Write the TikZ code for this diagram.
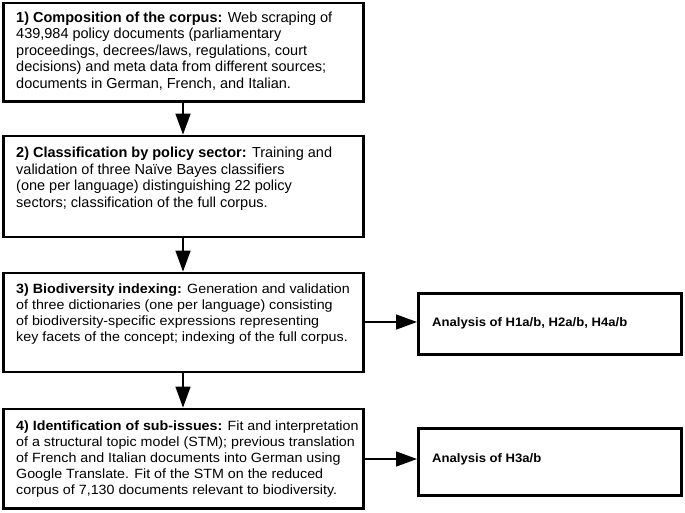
\documentclass[tikz,border=0pt]{standalone}
\usepackage{fontspec}
\setmainfont{Liberation Sans}
\newfontfamily\widefont[FakeStretch=1.065]{Liberation Sans}
\usetikzlibrary{arrows.meta,calc}
\tikzset{
  box/.style={draw=black, line width=2.8pt, rectangle, anchor=north west, inner sep=0pt},
  txt/.style={anchor=north west, align=left, inner sep=0pt, font=\fontsize{14.5}{16.4}\selectfont},
  ntxt/.style={txt, font=\fontsize{13.4}{16.2}\selectfont\widefont},
  htxt/.style={txt, anchor=west, font=\fontsize{12.3}{14}\selectfont\widefont\bfseries},
  flow/.style={line width=1.5pt, -{Triangle[width=15pt,length=21pt]}}
}
\begin{document}
\begin{tikzpicture}[x=1pt,y=-1pt]
\useasboundingbox (0,0) rectangle (685,512);
\node[box, minimum width=360.2, minimum height=98.2] (b1) at (2,1.5) {};
\node[txt] (t1) at (16,11.7) {\textbf{1) Composition of the corpus:} Web scraping of\\439,984 policy documents (parliamentary\\proceedings, decrees/laws, regulations, court\\decisions) and meta data from different sources;\\documents in German, French, and Italian.};
\node[box, minimum width=360.2, minimum height=101] (b2) at (2,134.6) {};
\node[txt] (t2) at (16,147.1) {\textbf{2) Classification by policy sector:} Training and\\validation of three Naïve Bayes classifiers\\(one per language) distinguishing 22 policy\\sectors; classification of the full corpus.};
\node[box, minimum width=360.2, minimum height=99] (b3) at (2,271.6) {};
\node[ntxt] (t3) at (16,283.2) {\textbf{3) Biodiversity indexing:} Generation and validation\\of three dictionaries (one per language) consisting\\of biodiversity-specific expressions representing\\key facets of the concept; indexing of the full corpus.};
\node[box, minimum width=360.2, minimum height=99.5] (b4) at (2,407.6) {};
\node[ntxt] (t4) at (16,420.2) {\textbf{4) Identification of sub-issues:} Fit and interpretation\\of a structural topic model (STM); previous translation\\of French and Italian documents into German using\\Google Translate. Fit of the STM on the reduced\\corpus of 7,130 documents relevant to biodiversity.};
\node[box, minimum width=263.2, minimum height=61.2] (h1) at (417,292) {};
\node[htxt] (th1) at (432,323) {Analysis of H1a/b, H2a/b, H4a/b};
\node[box, minimum width=263.2, minimum height=67.2] (h3) at (417,427) {};
\node[htxt] (th3) at (432,459) {Analysis of H3a/b};
\draw[flow] (b1.south -| 183,0) -- (b2.north -| 183,0);
\draw[flow] (b2.south -| 183,0) -- (b3.north -| 183,0);
\draw[flow] (b3.south -| 183,0) -- (b4.north -| 183,0);
\draw[flow] (b3.east |- 0,322) -- (h1.west |- 0,322);
\draw[flow] (b4.east |- 0,459) -- (h3.west |- 0,459);
\end{tikzpicture}
\end{document}
